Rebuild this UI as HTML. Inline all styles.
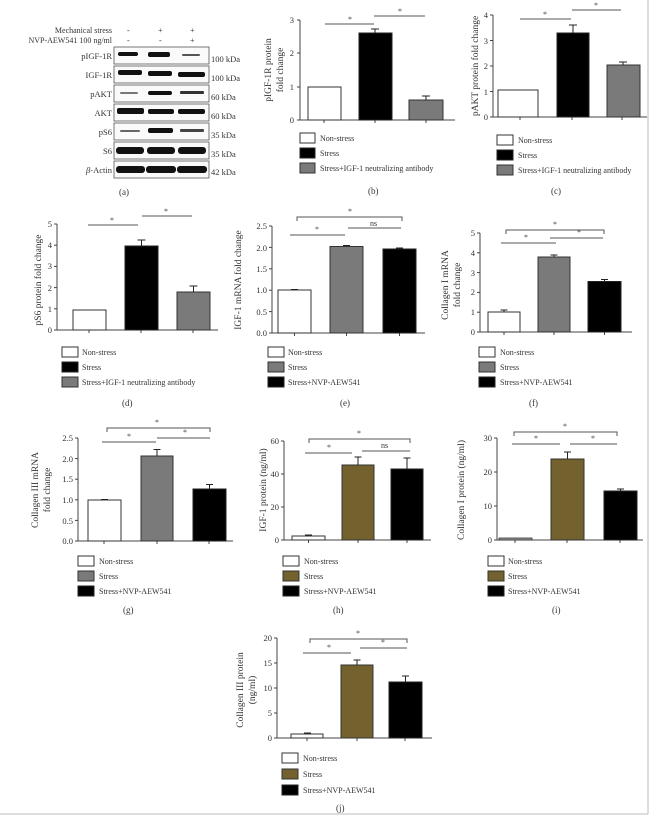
<!DOCTYPE html>
<html><head><meta charset="utf-8"><style>
html,body{margin:0;padding:0;background:#fff;}
svg{display:block;}
text{font-family:"Liberation Serif",serif;fill:#333;}
.t{font-size:8.5px;}
.y{font-size:9.5px;}
.lg{font-size:8px;}
.pl{font-size:9px;}
.ax{stroke:#444;stroke-width:1;fill:none;}
.bw{fill:#fff;stroke:#333;stroke-width:1;}
.bk{fill:#000;stroke:#222;stroke-width:1;}
.bg{fill:#7a7a7a;stroke:#333;stroke-width:1;}
.bo{fill:#73622e;stroke:#333;stroke-width:1;}
.e{stroke:#222;stroke-width:1;}
.s{stroke:#555;stroke-width:1;fill:none;}
.st{font-size:8px;fill:#444;}
.band{fill:#111;}
</style></head><body>
<svg width="659" height="822" viewBox="0 0 659 822" xmlns="http://www.w3.org/2000/svg">
<line x1="648" y1="0" x2="648" y2="814" stroke="#bbb"/>
<line x1="0" y1="814" x2="648" y2="814" stroke="#bbb"/>

<!-- (a) -->
<g class="t">
<text x="112" y="33" text-anchor="end" font-size="8">Mechanical stress</text>
<text x="112" y="43" text-anchor="end" font-size="8">NVP-AEW541 100 ng/ml</text>
<text x="127" y="33" font-size="8">-</text><text x="158" y="33" font-size="8">+</text><text x="190" y="33" font-size="8">+</text>
<text x="127" y="43" font-size="8">-</text><text x="159" y="43" font-size="8">-</text><text x="190" y="43" font-size="8">+</text>
</g>
<g fill="#fafafa" stroke="#555" stroke-width="0.8">
<rect x="114" y="47" width="95" height="17"/><rect x="114" y="66" width="95" height="17"/>
<rect x="114" y="85" width="95" height="17"/><rect x="114" y="104" width="95" height="17"/>
<rect x="114" y="123" width="95" height="17"/><rect x="114" y="142" width="95" height="17"/>
<rect x="114" y="161" width="95" height="17"/>
</g>
<g class="band">
<rect x="118" y="52" width="20" height="4" rx="2"/><rect x="148" y="52" width="22" height="5" rx="2"/><rect x="182" y="54" width="18" height="2" rx="1" fill="#555"/>
<rect x="118" y="70" width="24" height="5" rx="2"/><rect x="148" y="71" width="24" height="5" rx="2"/><rect x="178" y="72" width="27" height="5" rx="2"/>
<rect x="120" y="92" width="18" height="2" rx="1" fill="#777"/><rect x="148" y="91" width="24" height="4" rx="2"/><rect x="180" y="91" width="24" height="3" rx="1" fill="#333"/>
<rect x="117" y="108" width="27" height="6" rx="2"/><rect x="148" y="109" width="26" height="5" rx="2"/><rect x="178" y="109" width="27" height="5" rx="2"/>
<rect x="120" y="130" width="20" height="2" rx="1" fill="#666"/><rect x="148" y="128" width="25" height="5" rx="2"/><rect x="180" y="129" width="24" height="3" rx="1" fill="#444"/>
<rect x="116" y="147" width="28" height="7" rx="3"/><rect x="147" y="147" width="28" height="7" rx="3"/><rect x="178" y="147" width="28" height="7" rx="3"/>
<rect x="116" y="166" width="29" height="7" rx="3"/><rect x="146" y="166" width="30" height="7" rx="3"/><rect x="177" y="166" width="30" height="7" rx="3"/>
</g>
<g class="t" text-anchor="end">
<text x="112" y="59">pIGF-1R</text><text x="112" y="78">IGF-1R</text><text x="112" y="97">pAKT</text>
<text x="112" y="116">AKT</text><text x="112" y="135">pS6</text><text x="112" y="154">S6</text>
<text x="112" y="173"><tspan font-style="italic">β</tspan>-Actin</text>
</g>
<g class="t">
<text x="211" y="62">100 kDa</text><text x="211" y="81">100 kDa</text><text x="211" y="100">60 kDa</text>
<text x="211" y="119">60 kDa</text><text x="211" y="138">35 kDa</text><text x="211" y="157">35 kDa</text>
<text x="211" y="175">42 kDa</text>
</g>
<text class="pl" x="119" y="195">(a)</text>

<!-- (b) -->
<line class="ax" x1="300" y1="20" x2="300" y2="120"/><line class="ax" x1="300" y1="120" x2="455" y2="120"/>
<g class="ax"><line x1="297" y1="20" x2="300" y2="20"/><line x1="297" y1="53" x2="300" y2="53"/><line x1="297" y1="87" x2="300" y2="87"/><line x1="297" y1="120" x2="300" y2="120"/>
<line x1="324" y1="120" x2="324" y2="123"/><line x1="375" y1="120" x2="375" y2="123"/><line x1="426" y1="120" x2="426" y2="123"/></g>
<g class="t" text-anchor="end"><text x="294" y="23">3</text><text x="294" y="56">2</text><text x="294" y="90">1</text><text x="294" y="123">0</text></g>
<rect class="bw" x="308" y="87" width="33" height="33"/>
<rect class="bk" x="359" y="33" width="33" height="87"/>
<rect class="bg" x="409" y="100" width="34" height="20"/>
<g class="e"><line x1="375" y1="33" x2="375" y2="29"/><line x1="371" y1="29" x2="379" y2="29"/><line x1="426" y1="100" x2="426" y2="96"/><line x1="422" y1="96" x2="430" y2="96"/></g>
<line class="s" x1="325" y1="24" x2="374" y2="24"/><line class="s" x1="374" y1="16" x2="425" y2="16"/>
<text class="st" x="348" y="22">*</text><text class="st" x="398" y="14">*</text>
<text class="y" transform="translate(271,70) rotate(-90)" text-anchor="middle">pIGF-1R protein</text>
<text class="y" transform="translate(283,70) rotate(-90)" text-anchor="middle">fold change</text>
<rect class="bw" x="300" y="133" width="15" height="10"/><rect class="bk" x="300" y="148" width="15" height="10"/><rect class="bg" x="300" y="163" width="15" height="10"/>
<g class="lg"><text x="320" y="141">Non-stress</text><text x="320" y="156">Stress</text><text x="320" y="171">Stress+IGF-1 neutralizing antibody</text></g>
<text class="pl" x="368" y="194">(b)</text>

<!-- (c) -->
<line class="ax" x1="493" y1="15" x2="493" y2="117"/><line class="ax" x1="493" y1="117" x2="647" y2="117"/>
<g class="ax"><line x1="490" y1="15" x2="493" y2="15"/><line x1="490" y1="40.5" x2="493" y2="40.5"/><line x1="490" y1="66" x2="493" y2="66"/><line x1="490" y1="91.5" x2="493" y2="91.5"/><line x1="490" y1="117" x2="493" y2="117"/>
<line x1="520" y1="117" x2="520" y2="120"/><line x1="572" y1="117" x2="572" y2="120"/><line x1="622" y1="117" x2="622" y2="120"/></g>
<g class="t" text-anchor="end"><text x="488" y="18">4</text><text x="488" y="44">3</text><text x="488" y="69">2</text><text x="488" y="95">1</text><text x="488" y="120">0</text></g>
<rect class="bw" x="498" y="90" width="40" height="27"/>
<rect class="bk" x="557" y="33" width="32" height="84"/>
<rect class="bg" x="607" y="65" width="33" height="52"/>
<g class="e"><line x1="573" y1="33" x2="573" y2="25"/><line x1="569" y1="25" x2="577" y2="25"/><line x1="623" y1="65" x2="623" y2="62"/><line x1="619" y1="62" x2="627" y2="62"/></g>
<line class="s" x1="520" y1="19" x2="571" y2="19"/><line class="s" x1="572" y1="10" x2="621" y2="10"/>
<text class="st" x="543" y="17">*</text><text class="st" x="594" y="8">*</text>
<text class="y" transform="translate(478,66) rotate(-90)" text-anchor="middle">pAKT protein fold change</text>
<rect class="bw" x="497" y="135" width="16" height="10"/><rect class="bk" x="497" y="150" width="16" height="10"/><rect class="bg" x="497" y="165" width="16" height="10"/>
<g class="lg"><text x="518" y="143">Non-stress</text><text x="518" y="158">Stress</text><text x="518" y="173">Stress+IGF-1 neutralizing antibody</text></g>
<text class="pl" x="551" y="194">(c)</text>

<!-- (d) -->
<line class="ax" x1="57" y1="224" x2="57" y2="330"/><line class="ax" x1="57" y1="330" x2="218" y2="330"/>
<g class="ax"><line x1="54" y1="224" x2="57" y2="224"/><line x1="54" y1="245.2" x2="57" y2="245.2"/><line x1="54" y1="266.4" x2="57" y2="266.4"/><line x1="54" y1="287.6" x2="57" y2="287.6"/><line x1="54" y1="308.8" x2="57" y2="308.8"/><line x1="54" y1="330" x2="57" y2="330"/>
<line x1="89" y1="330" x2="89" y2="333"/><line x1="141" y1="330" x2="141" y2="333"/><line x1="193" y1="330" x2="193" y2="333"/></g>
<g class="t" text-anchor="end"><text x="52" y="227">5</text><text x="52" y="248">4</text><text x="52" y="269">3</text><text x="52" y="291">2</text><text x="52" y="312">1</text><text x="52" y="333">0</text></g>
<rect class="bw" x="73" y="310" width="33" height="20"/>
<rect class="bk" x="125" y="246" width="33" height="84"/>
<rect class="bg" x="177" y="292" width="33" height="38"/>
<g class="e"><line x1="141.5" y1="246" x2="141.5" y2="240"/><line x1="137.5" y1="240" x2="145.5" y2="240"/><line x1="193.5" y1="292" x2="193.5" y2="286"/><line x1="189.5" y1="286" x2="197.5" y2="286"/></g>
<line class="s" x1="88" y1="225" x2="138" y2="225"/><line class="s" x1="142" y1="216" x2="192" y2="216"/>
<text class="st" x="110" y="223">*</text><text class="st" x="164" y="214">*</text>
<text class="y" transform="translate(41,280) rotate(-90)" text-anchor="middle">pS6 protein fold change</text>
<rect class="bw" x="62" y="347" width="16" height="10"/><rect class="bk" x="62" y="362" width="16" height="10"/><rect class="bg" x="62" y="377" width="16" height="10"/>
<g class="lg"><text x="82" y="355">Non-stress</text><text x="82" y="370">Stress</text><text x="82" y="385">Stress+IGF-1 neutralizing antibody</text></g>
<text class="pl" x="122" y="406">(d)</text>

<!-- (e) -->
<line class="ax" x1="272" y1="226" x2="272" y2="333"/><line class="ax" x1="272" y1="333" x2="425" y2="333"/>
<g class="ax"><line x1="269" y1="226" x2="272" y2="226"/><line x1="269" y1="247.4" x2="272" y2="247.4"/><line x1="269" y1="268.8" x2="272" y2="268.8"/><line x1="269" y1="290.2" x2="272" y2="290.2"/><line x1="269" y1="311.6" x2="272" y2="311.6"/><line x1="269" y1="333" x2="272" y2="333"/>
<line x1="294.5" y1="333" x2="294.5" y2="336"/><line x1="346.5" y1="333" x2="346.5" y2="336"/><line x1="399.5" y1="333" x2="399.5" y2="336"/></g>
<g class="t" text-anchor="end"><text x="267" y="229">2.5</text><text x="267" y="251">2.0</text><text x="267" y="272">1.5</text><text x="267" y="293">1.0</text><text x="267" y="315">0.5</text><text x="267" y="336">0.0</text></g>
<rect class="bw" x="278" y="290" width="33" height="43"/>
<rect class="bg" x="330" y="246.5" width="33" height="86.5"/>
<rect class="bk" x="383" y="249" width="33" height="84"/>
<g class="e"><line x1="343" y1="245.5" x2="350" y2="245.5"/><line x1="396" y1="248" x2="403" y2="248"/><line x1="291" y1="289.5" x2="298" y2="289.5"/></g>
<path class="s" d="M297 221 V217 H402 V221"/>
<line class="s" x1="290" y1="235" x2="345" y2="235"/><line class="s" x1="348" y1="228" x2="401" y2="228"/>
<text class="st" x="348" y="214">*</text><text class="st" x="315" y="232">*</text><text class="lg" x="370" y="226">ns</text>
<text class="y" transform="translate(241,280) rotate(-90)" text-anchor="middle">IGF-1 mRNA fold change</text>
<rect class="bw" x="268" y="347" width="16" height="10"/><rect class="bg" x="268" y="362" width="16" height="10"/><rect class="bk" x="268" y="377" width="16" height="10"/>
<g class="lg"><text x="288" y="355">Non-stress</text><text x="288" y="370">Stress</text><text x="288" y="385">Stress+NVP-AEW541</text></g>
<text class="pl" x="340" y="406">(e)</text>

<!-- (f) -->
<line class="ax" x1="480" y1="233" x2="480" y2="332"/><line class="ax" x1="480" y1="332" x2="632" y2="332"/>
<g class="ax"><line x1="477" y1="233" x2="480" y2="233"/><line x1="477" y1="252.8" x2="480" y2="252.8"/><line x1="477" y1="272.6" x2="480" y2="272.6"/><line x1="477" y1="292.4" x2="480" y2="292.4"/><line x1="477" y1="312.2" x2="480" y2="312.2"/><line x1="477" y1="332" x2="480" y2="332"/>
<line x1="504" y1="332" x2="504" y2="335"/><line x1="554" y1="332" x2="554" y2="335"/><line x1="604.5" y1="332" x2="604.5" y2="335"/></g>
<g class="t" text-anchor="end"><text x="475" y="236">5</text><text x="475" y="256">4</text><text x="475" y="276">3</text><text x="475" y="295">2</text><text x="475" y="315">1</text><text x="475" y="335">0</text></g>
<rect class="bw" x="488" y="312" width="32" height="20"/>
<rect class="bg" x="538" y="257" width="32" height="75"/>
<rect class="bk" x="588" y="281.5" width="33" height="50.5"/>
<g class="e"><line x1="504" y1="312" x2="504" y2="310"/><line x1="500.5" y1="310" x2="507.5" y2="310"/><line x1="554" y1="257" x2="554" y2="255"/><line x1="550.5" y1="255" x2="557.5" y2="255"/><line x1="604.5" y1="281.5" x2="604.5" y2="279.5"/><line x1="601" y1="279.5" x2="608" y2="279.5"/></g>
<path class="s" d="M506 234 V230 H604 V234"/>
<line class="s" x1="501" y1="243" x2="556" y2="243"/><line class="s" x1="550" y1="238" x2="603" y2="238"/>
<text class="st" x="553" y="227">*</text><text class="st" x="524" y="240">*</text><text class="st" x="577" y="235">*</text>
<text class="y" transform="translate(448,285) rotate(-90)" text-anchor="middle">Collagen I mRNA</text>
<text class="y" transform="translate(460,285) rotate(-90)" text-anchor="middle">fold change</text>
<rect class="bw" x="479" y="347" width="16" height="10"/><rect class="bg" x="479" y="362" width="16" height="10"/><rect class="bk" x="479" y="377" width="16" height="10"/>
<g class="lg"><text x="500" y="355">Non-stress</text><text x="500" y="370">Stress</text><text x="500" y="385">Stress+NVP-AEW541</text></g>
<text class="pl" x="529" y="406">(f)</text>

<!-- (g) -->
<line class="ax" x1="78" y1="438" x2="78" y2="541"/><line class="ax" x1="78" y1="541" x2="233" y2="541"/>
<g class="ax"><line x1="75" y1="438" x2="78" y2="438"/><line x1="75" y1="458.6" x2="78" y2="458.6"/><line x1="75" y1="479.2" x2="78" y2="479.2"/><line x1="75" y1="499.8" x2="78" y2="499.8"/><line x1="75" y1="520.4" x2="78" y2="520.4"/><line x1="75" y1="541" x2="78" y2="541"/>
<line x1="104" y1="541" x2="104" y2="544"/><line x1="157" y1="541" x2="157" y2="544"/><line x1="209" y1="541" x2="209" y2="544"/></g>
<g class="t" text-anchor="end"><text x="73" y="441">2.5</text><text x="73" y="462">2.0</text><text x="73" y="482">1.5</text><text x="73" y="503">1.0</text><text x="73" y="524">0.5</text><text x="73" y="544">0.0</text></g>
<rect class="bw" x="88" y="500" width="33" height="41"/>
<rect class="bg" x="141" y="456" width="32" height="85"/>
<rect class="bk" x="193" y="489" width="33" height="52"/>
<g class="e"><line x1="157" y1="456" x2="157" y2="449.5"/><line x1="153.5" y1="449.5" x2="160.5" y2="449.5"/><line x1="209.5" y1="489" x2="209.5" y2="484.5"/><line x1="206" y1="484.5" x2="213" y2="484.5"/><line x1="101" y1="499.5" x2="108" y2="499.5"/></g>
<path class="s" d="M107 432 V428 H210 V432"/>
<line class="s" x1="102" y1="442" x2="156" y2="442"/><line class="s" x1="157" y1="438" x2="210" y2="438"/>
<text class="st" x="155" y="425">*</text><text class="st" x="127" y="439">*</text><text class="st" x="183" y="435">*</text>
<text class="y" transform="translate(38,490) rotate(-90)" text-anchor="middle">Collagen III mRNA</text>
<text class="y" transform="translate(50,490) rotate(-90)" text-anchor="middle">fold change</text>
<rect class="bw" x="78" y="556" width="16" height="10"/><rect class="bg" x="78" y="571" width="16" height="10"/><rect class="bk" x="78" y="586" width="16" height="10"/>
<g class="lg"><text x="99" y="564">Non-stress</text><text x="99" y="579">Stress</text><text x="99" y="594">Stress+NVP-AEW541</text></g>
<text class="pl" x="123" y="613">(g)</text>

<!-- (h) -->
<line class="ax" x1="284" y1="441" x2="284" y2="540"/><line class="ax" x1="284" y1="540" x2="431" y2="540"/>
<g class="ax"><line x1="281" y1="441" x2="284" y2="441"/><line x1="281" y1="474" x2="284" y2="474"/><line x1="281" y1="507" x2="284" y2="507"/><line x1="281" y1="540" x2="284" y2="540"/>
<line x1="308.5" y1="540" x2="308.5" y2="543"/><line x1="358" y1="540" x2="358" y2="543"/><line x1="407" y1="540" x2="407" y2="543"/></g>
<g class="t" text-anchor="end"><text x="279" y="444">60</text><text x="279" y="477">40</text><text x="279" y="510">20</text><text x="279" y="543">0</text></g>
<rect class="bw" x="292" y="536" width="33" height="4"/>
<rect class="bo" x="342" y="465" width="32" height="75"/>
<rect class="bk" x="391" y="469" width="32" height="71"/>
<g class="e"><line x1="305" y1="535" x2="312" y2="535"/><line x1="358" y1="465" x2="358" y2="457"/><line x1="354.5" y1="457" x2="361.5" y2="457"/><line x1="407" y1="469" x2="407" y2="458"/><line x1="403.5" y1="458" x2="410.5" y2="458"/></g>
<path class="s" d="M309 443 V439 H410 V443"/>
<line class="s" x1="305" y1="453" x2="352" y2="453"/><line class="s" x1="362" y1="451" x2="410" y2="451"/>
<text class="st" x="357" y="436">*</text><text class="st" x="327" y="450">*</text><text class="lg" x="381" y="448">ns</text>
<text class="y" transform="translate(266,490) rotate(-90)" text-anchor="middle">IGF-1 protein (ng/ml)</text>
<rect class="bw" x="283" y="556" width="16" height="10"/><rect class="bo" x="283" y="571" width="16" height="10"/><rect class="bk" x="283" y="586" width="16" height="10"/>
<g class="lg"><text x="304" y="564">Non-stress</text><text x="304" y="579">Stress</text><text x="304" y="594">Stress+NVP-AEW541</text></g>
<text class="pl" x="333" y="613">(h)</text>

<!-- (i) -->
<line class="ax" x1="497" y1="438" x2="497" y2="540"/><line class="ax" x1="497" y1="540" x2="643" y2="540"/>
<g class="ax"><line x1="494" y1="438" x2="497" y2="438"/><line x1="494" y1="472" x2="497" y2="472"/><line x1="494" y1="506" x2="497" y2="506"/><line x1="494" y1="540" x2="497" y2="540"/>
<line x1="515" y1="540" x2="515" y2="543"/><line x1="567" y1="540" x2="567" y2="543"/><line x1="620" y1="540" x2="620" y2="543"/></g>
<g class="t" text-anchor="end"><text x="492" y="441">30</text><text x="492" y="475">20</text><text x="492" y="509">10</text><text x="492" y="543">0</text></g>
<rect x="499" y="538" width="33" height="2" fill="#999" stroke="#333" stroke-width="0.8"/>
<rect class="bo" x="551" y="459" width="33" height="81"/>
<rect class="bk" x="604" y="491" width="33" height="49"/>
<g class="e"><line x1="567.5" y1="459" x2="567.5" y2="452"/><line x1="564" y1="452" x2="571" y2="452"/><line x1="620.5" y1="491" x2="620.5" y2="489"/><line x1="617" y1="489" x2="624" y2="489"/></g>
<path class="s" d="M514 436 V432 H617 V436"/>
<line class="s" x1="512" y1="444" x2="560" y2="444"/><line class="s" x1="570" y1="444" x2="617" y2="444"/>
<text class="st" x="563" y="429">*</text><text class="st" x="534" y="441">*</text><text class="st" x="591" y="441">*</text>
<text class="y" transform="translate(464,490) rotate(-90)" text-anchor="middle">Collagen I protein (ng/ml)</text>
<rect class="bw" x="488" y="556" width="16" height="10"/><rect class="bo" x="488" y="571" width="16" height="10"/><rect class="bk" x="488" y="586" width="16" height="10"/>
<g class="lg"><text x="508" y="564">Non-stress</text><text x="508" y="579">Stress</text><text x="508" y="594">Stress+NVP-AEW541</text></g>
<text class="pl" x="552" y="613">(i)</text>

<!-- (j) -->
<line class="ax" x1="277" y1="638" x2="277" y2="738"/><line class="ax" x1="277" y1="738" x2="432" y2="738"/>
<g class="ax"><line x1="274" y1="638" x2="277" y2="638"/><line x1="274" y1="663" x2="277" y2="663"/><line x1="274" y1="688" x2="277" y2="688"/><line x1="274" y1="713" x2="277" y2="713"/><line x1="274" y1="738" x2="277" y2="738"/>
<line x1="307" y1="738" x2="307" y2="741"/><line x1="357" y1="738" x2="357" y2="741"/><line x1="405" y1="738" x2="405" y2="741"/></g>
<g class="t" text-anchor="end"><text x="272" y="641">20</text><text x="272" y="666">15</text><text x="272" y="691">10</text><text x="272" y="716">5</text><text x="272" y="741">0</text></g>
<rect class="bw" x="291" y="734" width="32" height="4"/>
<rect class="bo" x="341" y="665" width="32" height="73"/>
<rect class="bk" x="389" y="682" width="33" height="56"/>
<g class="e"><line x1="357" y1="665" x2="357" y2="660"/><line x1="353.5" y1="660" x2="360.5" y2="660"/><line x1="405.5" y1="682" x2="405.5" y2="676"/><line x1="402" y1="676" x2="409" y2="676"/><line x1="304" y1="733" x2="311" y2="733"/></g>
<path class="s" d="M310 643 V639 H407 V643"/>
<line class="s" x1="303" y1="653" x2="351" y2="653"/><line class="s" x1="360" y1="648" x2="407" y2="648"/>
<text class="st" x="356" y="636">*</text><text class="st" x="327" y="650">*</text><text class="st" x="381" y="645">*</text>
<text class="y" transform="translate(243,690) rotate(-90)" text-anchor="middle">Collagen III protein</text>
<text class="y" transform="translate(255,690) rotate(-90)" text-anchor="middle">(ng/ml)</text>
<rect class="bw" x="282" y="753" width="16" height="10"/><rect class="bo" x="282" y="769" width="16" height="10"/><rect class="bk" x="282" y="785" width="16" height="10"/>
<g class="lg"><text x="303" y="761">Non-stress</text><text x="303" y="777">Stress</text><text x="303" y="793">Stress+NVP-AEW541</text></g>
<text class="pl" x="336" y="811">(j)</text>
</svg>
</body></html>
